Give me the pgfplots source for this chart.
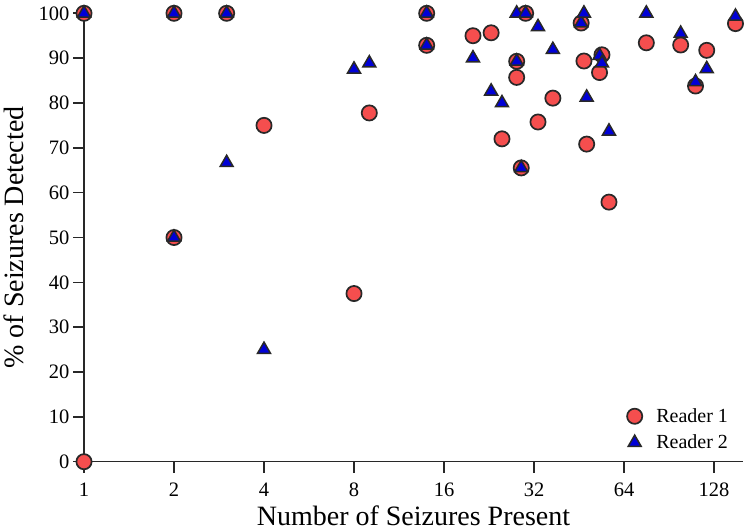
\documentclass[border=0pt]{standalone}
\usepackage{fontspec}
\setmainfont{Liberation Serif}
\usepackage{pgfplots}
\pgfplotsset{compat=1.18}
\definecolor{rfill}{RGB}{245,78,78}
\definecolor{bfill}{RGB}{0,0,215}
\definecolor{edge}{RGB}{40,40,40}
\begin{document}
\begin{tikzpicture}
\begin{axis}[name=ax, scale only axis, width=659pt, height=448.4pt,
  xmode=log, log basis x=2, xmin=1, xmax=160, ymin=0, ymax=100,
  axis x line*=bottom, axis y line*=left,
  axis line style={-, edge, line width=1.6pt},
  xtick={1,2,4,8,16,32,64,128}, xticklabels={1,2,4,8,16,32,64,128},
  xminorticks=false, yminorticks=false,
  ytick={0,10,...,100},
  tick align=outside, major tick length=11pt,
  tick style={edge, line width=1.6pt},
  ticklabel style={font=\fontsize{20.5}{24}\selectfont},
  xticklabel style={yshift=-7pt},
  /pgf/number format/assume math mode=true,
  label style={font=\fontsize{28}{32}\selectfont},
  xlabel={Number of Seizures Present},
  ylabel={\% of Seizures Detected},
  xlabel style={at={(axis description cs:0.5,-0.1412)}, anchor=base},
  ylabel style={at={(axis description cs:-0.0918,0.5)}, anchor=base},
  clip=false,
  legend style={draw=none, fill=none, at={(axis description cs:0.985,0.016)}, anchor=south east, font=\fontsize{20}{24}\selectfont, row sep=7pt, /tikz/every odd column/.append style={column sep=12pt}},
  legend cell align=left,
]
\addplot[only marks, mark=*, mark size=7.6pt, mark options={fill=rfill, draw=edge, line width=1.7pt}] coordinates {
(1,0) (1,100) (2,100) (2,50) (3,100) (4,75) (8,37.5) (9,77.78) (14,100) (14,92.86)
(20,95) (23,95.65) (25,72) (28,89.29) (28,85.71) (29,65.52) (30,100) (33,75.76) (37,81.08)
(46,97.83) (47,89.36) (48,70.83) (53,86.79) (54,90.74) (57,57.89) (76,93.42) (99,92.93)
(111,83.78) (121,91.74) (151,97.7)
};
\addlegendentry{Reader 1}
\addplot[only marks, mark=triangle*, mark size=7.5pt, mark options={fill=bfill, draw=edge, line width=1.5pt}] coordinates {
(1,100) (2,100) (2,50) (3,100) (3,66.67) (4,25) (8,87.5) (9,88.89) (14,100) (14,92.86)
(20,90) (23,82.61) (25,80) (28,100) (28,89.29) (29,65.52) (30,100) (33,96.97) (37,91.89)
(46,97.83) (47,100) (48,81.25) (53,90.57) (54,88.89) (57,73.68) (76,100) (99,95.5)
(111,84.68) (121,87.6) (151,99.3)
};
\addlegendentry{Reader 2}
\end{axis}
\pgfresetboundingbox
\path[use as bounding box] ([xshift=-84pt,yshift=-68.3pt]ax.south west) rectangle ([xshift=7pt,yshift=13.3pt]ax.north east);
\end{tikzpicture}
\end{document}
